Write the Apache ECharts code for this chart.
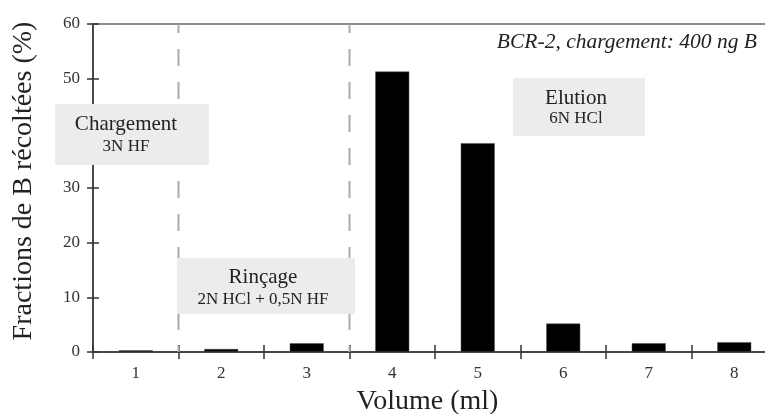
<!DOCTYPE html>
<html>
<head>
<meta charset="utf-8">
<script src="https://cdn.jsdelivr.net/npm/echarts@6/dist/echarts.min.js"></script>
<style>
html,body{margin:0;padding:0;background:#fff;}
#c{width:765px;height:414px;}
</style>
</head>
<body>
<div id="c"></div>
<script>
const categories = ['1','2','3','4','5','6','7','8'];
const fractions = [0.3, 0.55, 1.6, 51.3, 38.2, 5.2, 1.6, 1.8];
const yTicks = [0, 10, 20, 30, 40, 50, 60];
const phaseBoundaries = [1.5, 3.5];
const title = 'BCR-2, chargement: 400 ng B';
const yName = 'Fractions de B récoltées (%)';
const xName = 'Volume (ml)';
const phases = [
  {name: 'Chargement', sub: '3N HF'},
  {name: 'Rinçage', sub: '2N HCl + 0,5N HF'},
  {name: 'Elution', sub: '6N HCl'}
];

const serif = '"Liberation Serif", "Times New Roman", serif';
const axisColor = '#333';

const chart = echarts.init(document.getElementById('c'), null, {renderer: 'canvas'});

function box(x, y, w, h, p, cx, y1, y2) {
  return {
    type: 'group', z: 100,
    children: [
      {type: 'rect', shape: {x: x, y: y, width: w, height: h}, style: {fill: '#ececec'}, z: 100},
      {type: 'text', x: cx, y: y1, style: {text: p.name, font: '21px ' + serif, fill: '#222', align: 'center', verticalAlign: 'middle'}, z: 101},
      {type: 'text', x: cx, y: y2, style: {text: p.sub, font: '17px ' + serif, fill: '#222', align: 'center', verticalAlign: 'middle'}, z: 101}
    ]
  };
}

const option = {
  animation: false,
  backgroundColor: '#fff',
  grid: {left: 93, top: 24, width: 684, height: 328, show: true, borderColor: '#666', borderWidth: 1.5,
    backgroundColor: 'transparent', containLabel: false, outerBoundsMode: 'none'},
  xAxis: [
    {
      type: 'category', data: categories, boundaryGap: true, gridIndex: 0,
      axisLine: {lineStyle: {color: axisColor, width: 1.5}},
      axisTick: {show: true, alignWithLabel: false, interval: 0, length: 7, lineStyle: {color: axisColor, width: 1.5}},
      axisLabel: {color: '#333', fontFamily: serif, fontSize: 17, margin: 13},
      name: xName, nameLocation: 'middle', nameGap: 36,
      nameTextStyle: {fontFamily: serif, fontSize: 28, color: '#222', padding: [0, 15, 0, 0]}
    },
    {
      type: 'category', data: categories, boundaryGap: true, gridIndex: 0, position: 'bottom',
      axisLine: {show: false},
      axisTick: {show: true, inside: true, interval: 0, length: 7, lineStyle: {color: axisColor, width: 1.5}},
      axisLabel: {show: false}
    },
    {
      type: 'value', min: 0.5, max: 8.5, show: false, gridIndex: 0
    }
  ],
  yAxis: [
    {
      type: 'value', min: 0, max: 60, interval: 10,
      splitLine: {show: false},
      axisLine: {show: true, lineStyle: {color: axisColor, width: 1.5}},
      axisTick: {show: true, length: 6, lineStyle: {color: axisColor, width: 1.5}},
      axisLabel: {color: '#333', fontFamily: serif, fontSize: 17, margin: 13,
        formatter: v => yTicks.includes(v) ? String(v) : ''},
      name: yName, nameLocation: 'middle', nameGap: 55,
      nameTextStyle: {fontFamily: serif, fontSize: 28, color: '#222', padding: [0, 0, 0, 14]}
    },
    {
      type: 'value', min: 0, max: 60, interval: 10, position: 'left',
      splitLine: {show: false},
      axisLine: {show: false},
      axisTick: {show: true, inside: true, length: 6, lineStyle: {color: axisColor, width: 1.5}},
      axisLabel: {show: false}
    }
  ],
  series: [
    {
      type: 'bar', xAxisIndex: 0, yAxisIndex: 0, data: fractions, barWidth: 34,
      itemStyle: {color: '#000', borderColor: '#555', borderWidth: 0.5}, z: 5
    }
  ].concat(phaseBoundaries.map(b => ({
    type: 'line', xAxisIndex: 2, yAxisIndex: 0, data: [[b, 60], [b, 0]],
    symbol: 'none', silent: true, z: 2,
    lineStyle: {color: '#aaa', width: 2, type: [17, 16], dashOffset: 8}
  }))),
  graphic: [
    {type: 'text', right: 8, top: 31, style: {text: title, font: 'italic 21.5px ' + serif, fill: '#222'}, z: 100},
    box(55, 104, 154, 61, phases[0], 126, 124, 147),
    box(177, 258, 178, 56, phases[1], 263, 277, 300),
    box(513, 78, 132, 58, phases[2], 576, 98, 119)
  ]
};
chart.setOption(option);
</script>
</body>
</html>
